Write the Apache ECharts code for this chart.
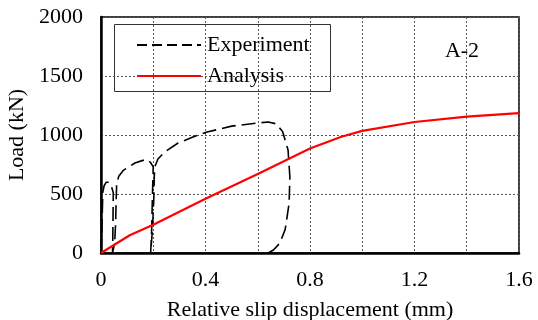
<!DOCTYPE html>
<html>
<head>
<meta charset="utf-8">
<script src="https://cdn.jsdelivr.net/npm/echarts@6/dist/echarts.min.js"></script>
<style>
html,body{margin:0;padding:0;background:#fff;}
#chart{width:538px;height:320px;}
</style>
</head>
<body>
<div id="chart"></div>
<script>
// Experiment (dashed black) : [slip (mm), load (kN)] in drawing order
const experimentX = [0, 0.003, 0.005, 0.007, 0.012, 0.02, 0.03, 0.04, 0.047, 0.046, 0.045, 0.044,
  0.052, 0.056, 0.058, 0.06, 0.068, 0.085, 0.107, 0.13, 0.16, 0.18, 0.19, 0.2,
  0.197, 0.194, 0.19, 0.197, 0.202, 0.204, 0.206, 0.218, 0.245, 0.295, 0.352, 0.406, 0.5, 0.6, 0.64,
  0.67, 0.695, 0.716, 0.723, 0.72, 0.705, 0.685, 0.66, 0.64];
const experimentY = [0, 150, 350, 517, 570, 600, 600, 565, 510, 300, 100, 0,
  80, 250, 450, 590, 650, 700, 730, 763, 785, 790, 765, 731,
  500, 200, 0, 200, 450, 650, 731, 797, 858, 932, 983, 1025, 1075, 1102, 1110,
  1095, 1030, 873, 644, 420, 200, 85, 25, 0];
// Analysis (red solid)
const analysisX = [0, 0.11, 0.2, 0.4, 0.6, 0.8, 0.92, 1.0, 1.2, 1.4, 1.6];
const analysisY = [0, 150, 240, 460, 670, 885, 985, 1035, 1110, 1155, 1185];
// Axis ticks
const xTicks = [0, 0.4, 0.8, 1.2, 1.6];
const yTicks = [0, 500, 1000, 1500, 2000];

const FONT = "'Liberation Serif','Times New Roman',serif";
const expData = experimentX.map((x, i) => [x, experimentY[i]]);
const anaData = analysisX.map((x, i) => [x, analysisY[i]]);

const chart = echarts.init(document.getElementById('chart'), null, {renderer: 'canvas'});
chart.setOption({
  animation: false,
  backgroundColor: '#fff',
  grid: {left: 101, top: 17, right: 19, bottom: 67, containLabel: false, outerBoundsMode: 'none',
    show: true, borderColor: '#000', borderWidth: 1.5, backgroundColor: 'transparent'},
  xAxis: {
    type: 'value', min: 0, max: 1.6, interval: 0.2,
    name: 'Relative slip displacement (mm)', nameLocation: 'middle', nameGap: 46,
    nameTextStyle: {fontFamily: FONT, fontSize: 22, color: '#000'},
    axisLine: {show: true, onZero: false, lineStyle: {color: '#000', width: 2.5}},
    axisTick: {show: false},
    axisLabel: {
      fontFamily: FONT, fontSize: 22, color: '#000', margin: 16,
      formatter: v => {
        const hit = xTicks.find(t => Math.abs(t - v) < 1e-6);
        return hit === undefined ? '' : String(hit);
      }
    },
    splitLine: {show: true, lineStyle: {color: '#555', width: 1, type: [2, 2]}}
  },
  yAxis: {
    type: 'value', min: 0, max: 2000, interval: 500,
    name: 'Load (kN)', nameLocation: 'middle', nameGap: 66, nameRotate: 90,
    nameTextStyle: {fontFamily: FONT, fontSize: 22, color: '#000'},
    axisLine: {show: true, lineStyle: {color: '#000', width: 2.5}},
    axisTick: {show: false},
    axisLabel: {
      fontFamily: FONT, fontSize: 22, color: '#000', margin: 18,
      formatter: v => yTicks.includes(v) ? String(v) : ''
    },
    splitLine: {show: true, lineStyle: {color: '#555', width: 1, type: [2, 2]}}
  },
  legend: {
    orient: 'vertical', left: 131, top: 29,
    itemWidth: 64, itemHeight: 14, itemGap: 9,
    itemStyle: {opacity: 0},
    textStyle: {fontFamily: FONT, fontSize: 22, color: '#000', lineHeight: 22, padding: [0, 0, 0, 1]},
    data: [
      {name: 'Experiment', lineStyle: {type: [10, 5], width: 2}},
      {name: 'Analysis'}
    ]
  },
  graphic: [
    {type: 'rect', left: 114, top: 24, shape: {width: 216, height: 67}, style: {fill: '#fff', stroke: '#333', lineWidth: 1}, z: 0},
    {type: 'text', x: 462, y: 51, style: {text: 'A-2', font: '22px ' + FONT, fill: '#000', textAlign: 'center', textVerticalAlign: 'middle'}}
  ],
  series: [
    {name: 'Experiment', type: 'line', data: expData, showSymbol: false, symbol: 'none',
     lineStyle: {color: '#000', width: 1.6, type: [14, 6]}, itemStyle: {color: '#000'}, smooth: false, z: 3},
    {name: 'Analysis', type: 'line', data: anaData, showSymbol: false, symbol: 'none',
     lineStyle: {color: '#ff0000', width: 2.2}, itemStyle: {color: '#ff0000'}, z: 4}
  ]
});
</script>
</body>
</html>
